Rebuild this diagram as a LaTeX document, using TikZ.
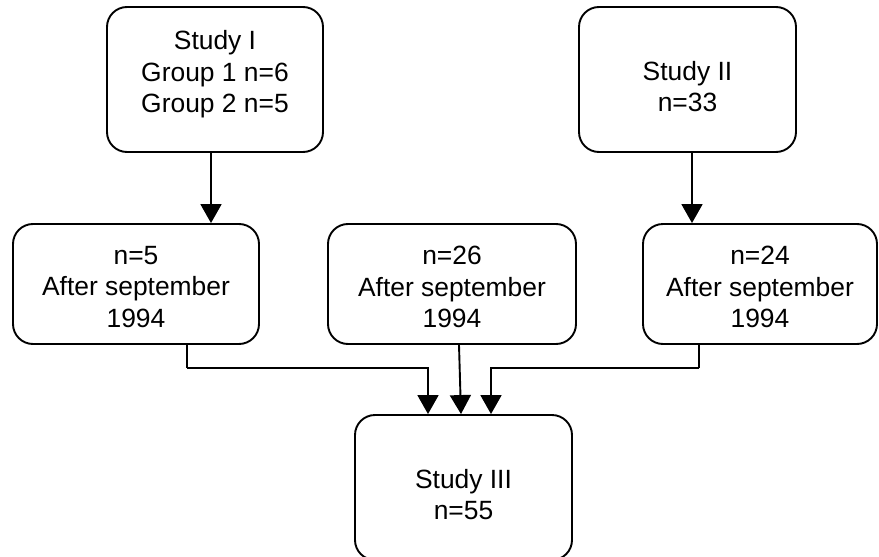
\documentclass[tikz,border=0pt]{standalone}
\usepackage{fontspec}
\setmainfont{Liberation Sans}
\usetikzlibrary{arrows.meta}
\begin{document}
\begin{tikzpicture}[x=1pt,y=-1pt,
  box/.style={draw, line width=1.9pt, rounded corners=20pt, rectangle, inner sep=0pt},
  txt/.style={align=center, inner sep=0pt, font=\fontsize{26.4}{31.6}\selectfont},
  arr/.style={line width=1.9pt, -{Triangle[width=21pt,length=19pt]}},
  ln/.style={line width=1.9pt}]
\useasboundingbox (0,0) rectangle (879,557);
% boxes
\node[box, minimum width=216pt, minimum height=145pt] (s1) at (215,79.5) {};
\node[box, minimum width=217pt, minimum height=145pt] (s2) at (687.5,79.5) {};
\node[box, minimum width=246pt, minimum height=120pt] (b1) at (136,284) {};
\node[box, minimum width=248pt, minimum height=120pt] (b2) at (452,284) {};
\node[box, minimum width=234pt, minimum height=120pt] (b3) at (760,284) {};
\node[box, minimum width=217pt, minimum height=145pt] (s3) at (463.5,487.5) {};
% texts
\node[txt] (s1t) at ([yshift=5pt]s1.center) {Study I\\Group 1 n=6\\Group 2 n=5};
\node[txt] (s2t) at ([yshift=-7pt]s2.center) {Study II\\n=33};
\node[txt] (b1t) at ([yshift=-3pt]b1.center) {n=5\\After september\\1994};
\node[txt] (b2t) at ([yshift=-3pt]b2.center) {n=26\\After september\\1994};
\node[txt] (b3t) at ([yshift=-3pt]b3.center) {n=24\\After september\\1994};
\node[txt] (s3t) at ([yshift=-7pt]s3.center) {Study III\\n=55};
% connectors
\draw[arr] ([xshift=-4pt]s1.south) -- ([xshift=-4pt]s1.south |- b1.north);
\draw[arr] ([xshift=4.5pt]s2.south) -- ([xshift=4.5pt]s2.south |- b3.north);
\coordinate (j1) at (187,368);
\coordinate (j3) at (699,368);
\draw[ln] ([xshift=51pt]b1.south) -- (j1);
\draw[arr] (j1) -| ([xshift=-35.5pt]s3.north);
\draw[arr] ([xshift=7pt]b2.south) -- ([xshift=-2.5pt]s3.north);
\draw[ln] ([xshift=-61pt]b3.south) -- (j3);
\draw[arr] (j3) -| ([xshift=27.5pt]s3.north);
\end{tikzpicture}
\end{document}
